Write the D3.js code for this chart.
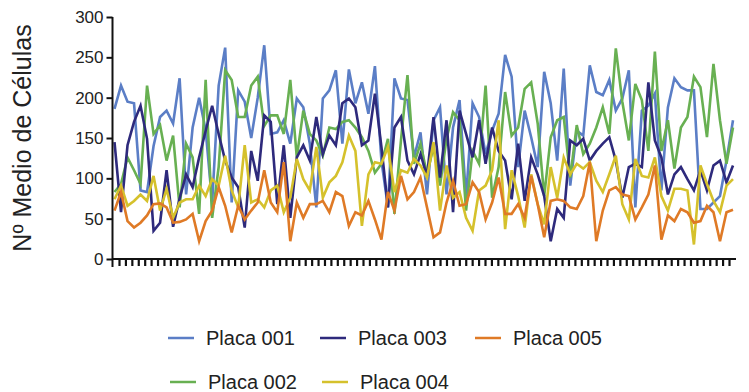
<!DOCTYPE html>
<html>
<head>
<meta charset="utf-8">
<script src="https://cdn.jsdelivr.net/npm/d3@7"></script>
<style>
  html, body { margin: 0; padding: 0; background: #fff; }
  svg { display: block; font-family: "Liberation Sans", Arial, Helvetica, sans-serif; }
</style>
</head>
<body>
<svg id="chart" width="749" height="392"></svg>
<script>
// Mean cell count per well (96 wells) for each plate
const wells = d3.range(1, 97);

const placa001 = [186,215,195,193,85,83,140,176,184,168,224,80,163,200,160,70,215,262,70,209,195,150,200,265,
  155,157,172,143,199,188,143,64,199,209,234,143,235,193,219,180,239,122,64,224,199,197,
  126,157,80,172,188,80,163,197,76,193,176,130,159,180,253,226,114,184,151,114,232,193,122,
  236,91,159,153,240,207,203,222,184,199,234,64,184,190,205,85,188,224,213,209,209,62,62,70,78,122,172];

const placa002 = [83,93,126,110,93,215,155,166,122,153,64,143,126,56,222,51,114,234,222,176,176,215,226,165,
  178,178,155,222,126,184,155,147,128,163,161,170,172,163,151,134,107,118,149,56,147,228,
  118,143,105,139,91,149,182,172,60,134,118,215,76,114,207,153,163,211,219,168,78,151,172,
  176,101,166,130,143,163,188,155,261,195,147,217,197,134,257,134,172,112,163,176,226,213,151,242,172,118,163];

const placa003 = [145,58,141,170,190,149,35,45,110,40,75,105,89,126,159,190,155,122,101,89,39,134,97,178,
  170,68,141,51,126,141,122,176,130,153,141,193,199,188,141,147,205,139,64,163,176,122,
  105,130,103,176,101,172,58,184,155,126,172,118,163,134,122,74,143,72,126,105,78,22,62,
  51,147,141,149,122,134,143,151,122,76,114,118,114,219,147,126,80,105,114,99,85,110,85,116,122,95,116];

const placa004 = [74,91,66,72,80,72,103,60,87,51,70,74,74,91,78,99,91,128,85,64,141,70,74,64,
  85,91,58,76,124,99,85,139,76,95,103,120,153,134,41,105,120,118,139,83,110,107,
  124,116,101,145,60,116,76,83,51,35,85,91,110,172,37,110,78,39,105,68,43,114,76,
  126,105,118,112,120,97,83,105,128,68,49,124,103,101,126,78,60,87,87,85,18,116,93,72,58,91,99];

const placa005 = [60,83,47,39,45,54,68,69,64,45,46,49,56,22,47,60,89,66,33,66,49,60,70,110,
  70,58,120,22,70,51,68,68,72,58,83,78,41,58,54,72,49,24,83,60,103,74,
  83,101,64,27,33,70,97,66,68,95,83,49,70,101,56,56,68,51,103,68,27,72,74,
  72,64,62,78,120,22,60,85,89,80,78,49,64,80,116,24,54,47,62,58,45,47,66,58,22,58,61];

const seriesNames = ["Placa 001", "Placa 002", "Placa 003", "Placa 004", "Placa 005"];
const seriesValues = [placa001, placa002, placa003, placa004, placa005];
const seriesColors = ["#5b7ec6", "#68b052", "#2e2a7c", "#d5c12c", "#df7a26"];

const yTicks = [0, 50, 100, 150, 200, 250, 300];

// legend layout: two rows, three columns
const legendOrder = ["Placa 001", "Placa 003", "Placa 005", "Placa 002", "Placa 004"];

const svg = d3.select("#chart");

const x = d3.scaleLinear().domain([1, 96]).range([114.5, 733]);
const xTick = d3.scalePoint().domain(wells).range([119, 729]);
const y = d3.scaleLinear().domain([0, 300]).range([259, 17]);

// series lines
const line = d3.line().x((d, i) => x(wells[i])).y(d => y(d));
const plot = svg.append("g");
seriesValues.forEach((vals, k) => {
  plot.append("path")
    .datum(vals)
    .attr("fill", "none")
    .attr("stroke", seriesColors[k])
    .attr("stroke-width", 2.6)
    .attr("stroke-linejoin", "miter")
    .attr("d", line);
});

// y axis
const yAxis = svg.append("g")
  .attr("transform", "translate(112.5,0)")
  .call(d3.axisLeft(y).tickValues(yTicks).tickSize(6).tickPadding(3));
yAxis.select(".domain").attr("stroke", "#111").attr("stroke-width", 2)
  .attr("d", `M0,${y(300)}V${y(0) + 8}`);
yAxis.selectAll(".tick line").attr("stroke", "#111").attr("stroke-width", 2);
yAxis.selectAll(".tick text").attr("font-size", 17).attr("fill", "#222");

// x axis
const xAxis = svg.append("g")
  .attr("transform", `translate(0,${y(0)})`)
  .call(d3.axisBottom(xTick).tickSize(7).tickFormat(""));
xAxis.select(".domain").attr("stroke", "#111").attr("stroke-width", 2)
  .attr("d", `M112.5,0H736`);
xAxis.selectAll(".tick line").attr("stroke", "#111").attr("stroke-width", 2.2);

// y axis title
svg.append("text")
  .attr("transform", `translate(31,${(y(0) + y(300)) / 2}) rotate(-90)`)
  .attr("text-anchor", "middle")
  .attr("font-size", 25)
  .attr("fill", "#222")
  .text("Nº Medio de Células");

// legend
const legendPos = [
  { lx: 168, ly: 338 }, { lx: 320, ly: 338 }, { lx: 475, ly: 338 },
  { lx: 170, ly: 382 }, { lx: 322, ly: 382 }
];
legendOrder.forEach((name, j) => {
  const k = seriesNames.indexOf(name);
  const p = legendPos[j];
  const g = svg.append("g").attr("transform", `translate(${p.lx},${p.ly})`);
  g.append("line").attr("x1", 0).attr("x2", 26).attr("y1", 0).attr("y2", 0)
    .attr("stroke", seriesColors[k]).attr("stroke-width", 2.5);
  g.append("text").attr("x", 38).attr("y", 7).attr("font-size", 20)
    .attr("fill", "#222").text(name);
});
</script>
</body>
</html>
